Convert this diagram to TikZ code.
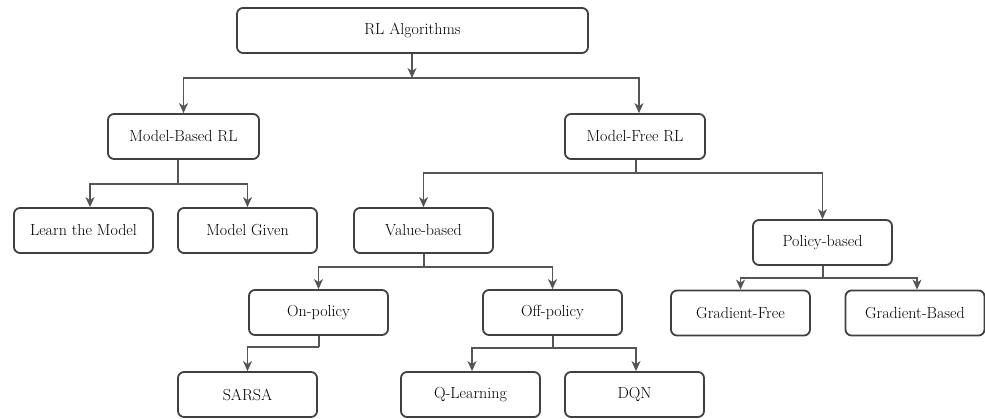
\documentclass[tikz,border=0pt]{standalone}
\usetikzlibrary{arrows.meta}
\definecolor{boxc}{HTML}{404040}
\definecolor{linec}{HTML}{555555}
\begin{document}
\begin{tikzpicture}[x=1pt,y=-1pt,
  box/.style={draw=boxc,line width=1.8pt,rounded corners=6pt,minimum height=45pt,
    minimum width=139pt,inner sep=0pt,font=\fontsize{16}{18}\selectfont,text=black},
  link/.style={draw=linec,line width=1.1pt},
  arr/.style={link,-{Stealth[length=10pt,width=9pt,inset=3pt]}}]
\useasboundingbox (0,0) rectangle (985,419);
% nodes
\node[box,minimum width=351pt] (rl) at (412.5,30.5) {RL Algorithms};
\node[box,minimum width=151pt] (mb) at (183.5,136.5) {Model-Based RL};
\node[box,minimum width=140pt] (mf) at (635,136.5) {Model-Free RL};
\node[box] (ltm) at (83.5,230.5) {Learn the Model};
\node[box] (mg) at (247.5,230.5) {Model Given};
\node[box] (vb) at (423.5,230.5) {Value-based};
\node[box] (pb) at (822.5,242.5) {Policy-based};
\node[box] (onp) at (318.5,312.5) {On-policy};
\node[box] (offp) at (552.5,312.5) {Off-policy};
\node[box] (gf) at (740.5,313) {Gradient-Free};
\node[box] (gb) at (915,313) {Gradient-Based};
\node[box] (sarsa) at (247.5,394.5) {SARSA};
\node[box] (ql) at (470.5,394.5) {Q-Learning};
\node[box] (dqn) at (634.5,394.5) {DQN};
% junctions
\coordinate (j1) at (412,78);
\coordinate (j2) at (178,184);
\coordinate (j3) at (636,173);
\coordinate (j4) at (424,267);
\coordinate (j5) at (823,278);
\coordinate (j6) at (319,347);
\coordinate (j7) at (553,348);
% connectors
\draw[arr] (rl.south -| j1) -- (j1);
\draw[arr] (j1) -| (mb.north);
\draw[arr] (j1) -| ([xshift=4pt]mf.north);
\draw[link] (mb.south -| j2) -- (j2);
\draw[arr] (j2) -| ([xshift=6.5pt]ltm.north);
\draw[arr] (j2) -| (mg.north);
\draw[link] (mf.south -| j3) -- (j3);
\draw[arr] (j3) -| (vb.north);
\draw[arr] (j3) -| (pb.north);
\draw[link] (vb.south -| j4) -- (j4);
\draw[arr] (j4) -| (onp.north);
\draw[arr] (j4) -| (offp.north);
\draw[link] (pb.south -| j5) -- (j5);
\draw[arr] (j5) -| (gf.north);
\draw[arr] (j5) -| ([xshift=2pt]gb.north);
\draw[link] (onp.south -| j6) -- (j6);
\draw[arr] (j6) -| (sarsa.north);
\draw[link] (offp.south -| j7) -- (j7);
\draw[arr] (j7) -| ([xshift=1.5pt]ql.north);
\draw[arr] (j7) -| ([xshift=1.5pt]dqn.north);
\end{tikzpicture}
\end{document}
